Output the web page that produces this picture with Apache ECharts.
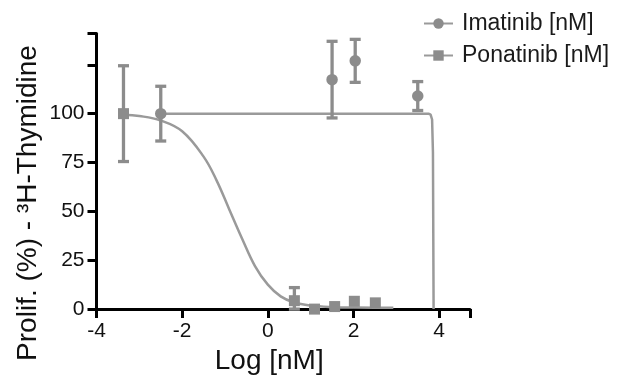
<!DOCTYPE html>
<html><head><meta charset="utf-8">
<script src="https://cdn.jsdelivr.net/npm/echarts@6/dist/echarts.min.js"></script>
<style>html,body{margin:0;padding:0;background:#fff}#c{width:624px;height:380px}</style>
</head><body><div id="c"></div>
<script>
// Data
const xTicks = [-4, -2, 0, 2, 4];
const yTicks = [0, 25, 50, 75, 100, 125];
const imatinibX = [-2.5, 1.5, 2.04, 3.5];
const imatinibY = [100, 117.4, 127, 109];
const imatinibErrLow = [14, 19.6, 11, 7.4];
const imatinibErrHigh = [14, 19.6, 11, 7.4];
const ponatinibX = [-3.37, 0.62, 1.09, 1.56, 2.02, 2.51];
const ponatinibY = [100, 4.3, 0, 1.3, 4, 3.2];
const ponatinibErrLow = [24.5, 4.3, 0, 0, 0, 0];
const ponatinibErrHigh = [24.5, 6.7, 0, 0, 0, 0];
// fitted curves
const imatinibCurveX = [-2.5, 3.75, 3.8, 3.835, 3.855, 3.87];
const imatinibCurveY = [100, 100, 99.5, 97, 80, 0];
const ponatinibCurveX = [-3.37, -3, -2.5, -2, -1.5, -1.2, -0.9, -0.6, -0.3, 0, 0.3, 0.6, 1, 1.5, 2, 2.5, 2.93];
const ponatinibCurveY = [99.4, 98.8, 96.5, 91, 78, 66, 51, 36, 22, 12.5, 6.5, 3.5, 1.8, 1.0, 0.8, 0.7, 0.7];

const markColor = '#8c8c8c';
const lineColor = '#9a9a9a';
const FONT = "'Liberation Sans', Arial, sans-serif";

const zip = (a, b) => a.map((v, i) => [v, b[i]]);
const errData = (xs, ys, lo, hi) => xs.map((x, i) => [x, ys[i] - lo[i], ys[i] + hi[i]]);

function errRender(params, api) {
  const x = api.value(0), lo = api.value(1), hi = api.value(2);
  if (hi - lo <= 0) return null;
  const p1 = api.coord([x, lo]), p2 = api.coord([x, hi]);
  const w = 5.5;
  const style = { stroke: markColor, lineWidth: 3.3 };
  return {
    type: 'group',
    children: [
      { type: 'line', shape: { x1: p1[0], y1: p1[1], x2: p2[0], y2: p2[1] }, style },
      { type: 'line', shape: { x1: p1[0] - w, y1: p1[1], x2: p1[0] + w, y2: p1[1] }, style },
      { type: 'line', shape: { x1: p2[0] - w, y1: p2[1], x2: p2[0] + w, y2: p2[1] }, style }
    ]
  };
}

const chart = echarts.init(document.getElementById('c'), null, { renderer: 'canvas' });
chart.setOption({
  animation: false,
  backgroundColor: '#ffffff',
  textStyle: { fontFamily: FONT },
  grid: { left: 96.5, right: 154, top: 33.5, bottom: 63 },
  legend: {
    orient: 'vertical',
    left: 418, top: 7,
    itemWidth: 29, itemHeight: 13, itemGap: 9,
    textStyle: { fontSize: 23, color: '#1a1a1a', fontFamily: FONT, padding: [0, 0, 0, 4] },
    data: ['Imatinib [nM]', 'Ponatinib [nM]']
  },
  xAxis: {
    type: 'value', min: -4, max: 4.72, interval: 2,
    name: 'Log [nM]', nameLocation: 'middle', nameGap: 33,
    nameTextStyle: { fontSize: 28, color: '#111', fontFamily: FONT, padding: [0, 28, 0, 0] },
    axisLine: { onZero: false, lineStyle: { color: '#000', width: 3 } },
    axisTick: { length: 9, lineStyle: { color: '#000', width: 3 } },
    axisLabel: { fontSize: 21, color: '#111', margin: 12, fontFamily: FONT,
      formatter: v => xTicks.includes(v) ? String(v) : '' },
    splitLine: { show: false }
  },
  yAxis: {
    type: 'value', min: 0, max: 141, interval: 25,
    axisLine: { show: true, onZero: false, lineStyle: { color: '#000', width: 3 } },
    axisTick: { show: true, length: 9, lineStyle: { color: '#000', width: 3 } },
    axisLabel: { fontSize: 21, color: '#111', margin: 12, fontFamily: FONT,
      formatter: v => (yTicks.includes(v) && v <= 100) ? String(v) : '' },
    splitLine: { show: false }
  },
  graphic: [{
    type: 'text', x: 28.5, y: 203, rotation: Math.PI / 2,
    style: { text: 'Prolif. (%) - \u00B3H-Thymidine', fontSize: 28, fontFamily: FONT,
      fill: '#111', textAlign: 'center', textVerticalAlign: 'middle' }
  }],
  series: [
    { name: 'Imatinib [nM]', type: 'line', data: zip(imatinibCurveX, imatinibCurveY),
      symbol: 'circle', showSymbol: false, smooth: false,
      lineStyle: { color: lineColor, width: 2.5 }, itemStyle: { color: markColor }, z: 2 },
    { name: 'Ponatinib [nM]', type: 'line', data: zip(ponatinibCurveX, ponatinibCurveY),
      symbol: 'rect', showSymbol: false, smooth: 0.4,
      lineStyle: { color: lineColor, width: 2.5 }, itemStyle: { color: markColor }, z: 2 },
    { name: 'imErr', type: 'custom', renderItem: errRender, z: 3,
      data: errData(imatinibX, imatinibY, imatinibErrLow, imatinibErrHigh) },
    { name: 'poErr', type: 'custom', renderItem: errRender, z: 3,
      data: errData(ponatinibX, ponatinibY, ponatinibErrLow, ponatinibErrHigh) },
    { name: 'imPts', type: 'scatter', data: zip(imatinibX, imatinibY), symbol: 'circle',
      symbolSize: 11.5, itemStyle: { color: markColor, opacity: 1 }, z: 4 },
    { name: 'poPts', type: 'scatter', data: zip(ponatinibX, ponatinibY), symbol: 'rect',
      symbolSize: 11, itemStyle: { color: markColor, opacity: 1 }, z: 4 }
  ]
});
</script></body></html>
